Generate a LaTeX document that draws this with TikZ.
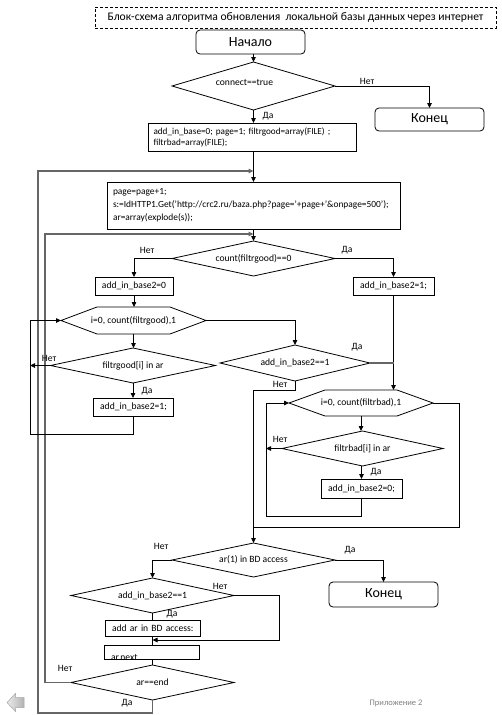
\documentclass[tikz,border=0pt]{standalone}
\usepackage{fontspec}
\setmainfont{Carlito}
\usetikzlibrary{arrows.meta}
\newcommand\hexoutline[2]{\draw[ln] (#1.west) -- ([xshift=#2]#1.north west) -- ([xshift=-#2]#1.north east) -- (#1.east) -- ([xshift=-#2]#1.south east) -- ([xshift=#2]#1.south west) -- cycle;}
\newcommand\diaoutline[1]{\draw[ln] (#1.west) -- (#1.north) -- (#1.east) -- (#1.south) -- cycle;}
\begin{document}
\begin{tikzpicture}[x=1pt,y=-1pt,
  every node/.style={inner sep=0pt, outer sep=0pt},
  txt/.style={font=\fontsize{9.6}{11}\selectfont},
  boxn/.style={draw, rectangle, txt, line width=0.8pt},
  term/.style={draw, rectangle, rounded corners=4pt, font=\fontsize{14}{16}\selectfont, line width=0.8pt, minimum width=109pt},
  dia/.style={rectangle, txt},
  lbl/.style={txt},
  ln/.style={line width=0.8pt},
  arr/.style={ln, -{Triangle[length=5pt,width=4.5pt]}},
  gln/.style={line width=1.1pt, black!60},
  garr/.style={gln, -{Triangle[length=5pt,width=4.5pt]}},
]
\useasboundingbox (0,0) rectangle (502,715);
\fill[white] (0,0) rectangle (502,715);

% title
\node[draw, dashed, dash pattern=on 3pt off 2pt, line width=0.8pt, minimum width=401pt, minimum height=21pt, font=\fontsize{11.6}{13}\selectfont] (title) at (295.5,17.5) {Блок-схема алгоритма обновления\ \ локальной базы данных через интернет};

% nodes
\node[term, minimum height=24pt] (start) at (250.5,42) {Начало};
\node[dia, minimum width=163pt, minimum height=48pt, label={[txt, xshift=-9pt, yshift=4pt]center:connect==true}] (d1) at (253.5,86) {};
\diaoutline{d1}
\node[term, minimum height=23pt] (end1) at (429.5,119.5) {Конец};
\node[boxn, minimum width=208pt, minimum height=28pt, text width=197pt, align=left, font=\fontsize{9.2}{11}\selectfont] (b1) at (252,137) {add\_in\_base=0; page=1; filtrgood=array(FILE) ;\\filtrbad=array(FILE);};
\node[boxn, minimum width=293pt, minimum height=47pt, text width=281pt, align=left, font=\fontsize{9.4}{13}\selectfont] (b2) at (253.5,205.5) {page=page+1;\\s:=IdHTTP1.Get('http://crc2.ru/baza.php?page='+page+'\&onpage=500');\\ar=array(explode(s));};
\node[dia, minimum width=163pt, minimum height=35pt] (d2) at (253.5,258.5) {count(filtrgood)==0};
\diaoutline{d2}
\node[boxn, minimum width=78pt, minimum height=18pt] (b3) at (134,286) {add\_in\_base2=0};
\node[boxn, minimum width=81pt, minimum height=18pt] (b4) at (393.5,286) {add\_in\_base2=1;};
\node[txt, minimum width=145pt, minimum height=27pt] (h1) at (133.5,320.5) {i=0, count(filtrgood),1};
\hexoutline{h1}{36pt}
\node[dia, minimum width=165pt, minimum height=35pt] (d3) at (133,365.5) {filtrgood[i] in ar};
\diaoutline{d3}
\node[boxn, minimum width=80pt, minimum height=18pt] (b5) at (133.5,407) {add\_in\_base2=1;};
\node[dia, minimum width=150pt, minimum height=36pt] (d4) at (295,363) {add\_in\_base2==1};
\diaoutline{d4}
\node[txt, minimum width=144pt, minimum height=26pt] (h2) at (361,403) {i=0, count(filtrbad),1};
\hexoutline{h2}{36pt}
\node[dia, minimum width=161pt, minimum height=35pt] (d5) at (362.5,448.5) {filtrbad[i] in ar};
\diaoutline{d5}
\node[boxn, minimum width=81pt, minimum height=19pt] (b6) at (361.5,488.5) {add\_in\_base2=0;};
\node[dia, minimum width=163pt, minimum height=34pt] (d6) at (253.5,560) {ar(1) in BD access};
\diaoutline{d6}
\node[term, minimum height=25pt] (end2) at (383.5,594.5) {Конец};
\node[dia, minimum width=163pt, minimum height=35pt] (d7) at (152.5,595.5) {add\_in\_base2==1};
\diaoutline{d7}
\node[boxn, minimum width=95pt, minimum height=16pt, text width=87pt, align=left] (b7) at (152.5,628) {\hspace*{3pt}add ar in BD access:};
\node[boxn, minimum width=95pt, minimum height=14pt] (b8) at (151.5,652) {};
\begin{scope}
\clip (b8.south west) rectangle (b8.north east);
\node[txt, anchor=base west] (b8t) at (111,660.5) {ar.next};
\end{scope}
\node[dia, minimum width=163pt, minimum height=35pt] (d8) at (152.5,682.5) {ar==end};
\diaoutline{d8}

% coordinates
\coordinate (c1) at (38,713);
\coordinate (c2) at (38,171);
\coordinate (c3) at (45,234);
\coordinate (c4) at (30,434);
\coordinate (c5) at (30,365.5);
\coordinate (c6) at (253.5,390);
\coordinate (c7) at (459,527);
\coordinate (c8) at (266,516);
\coordinate (c9) at (279,640);
\coordinate (c10) at (266,448.5);

% connectors
\draw[arr] (start.south -| d1.north) -- (d1.north);
\draw[arr] (d1.east) -| (end1.north);
\draw[arr] (d1.south) -- (d1.south |- b1.north);
\draw[arr] (b1.south -| b2.north) -- (b2.north);
\draw[garr] (d8.south) |- (c1) -- (c2) -- (c2 -| b2.north);
\draw[arr] (b2.south) -- (d2.north);
\draw[garr] (d8.west) -| (c3) -- (c3 -| d2.north);
\draw[arr] (d2.west) -| (b3.north);
\draw[arr] (d2.east) -| (b4.north);
\draw[arr] (b3.south) -- (b3.south |- h1.north);
\draw[arr] (h1.east) -| (d4.north);
\draw[arr] (h1.south) -- (h1.south |- d3.north);
\draw[arr] (d3.west) -- (c5);
\draw[arr] (d3.south) -- (d3.south |- b5.north);
\draw[arr] (b5.south) |- (c4) -- (c4 |- h1.west) -- (h1.west);
\draw[arr] (b4.south) -- (b4.south |- h2.north);
\draw[gln] (d4.east) -- (d4.east -| b4.south);
\draw[arr] (d4.south) |- (c6) -- (c6 |- d6.north);
\draw[ln] (h2.east) -| (c7) -- (c7 -| c6);
\draw[arr] (h2.south) -- (h2.south |- d5.north);
\draw[arr] (d5.west) -- (c10);
\draw[arr] (d5.south -| b6.north) -- (b6.north);
\draw[arr] (b6.south) |- (c8) -- (c8 |- h2.west) -- (h2.west);
\draw[arr] (d6.west) -| (d7.north);
\draw[arr] (d6.east) -| (end2.north);
\draw[arr] (d7.east) -| (c9) -- (c9 -| d7.south);
\draw[ln] (d7.south) -- (d7.south |- b7.north);
\draw[ln] (b7.south) -- (b7.south |- b8.north);
\draw[ln] (b8.south -| d8.north) -- (d8.north);

% labels
\node[lbl] (l1) at (367,81) {Нет};
\node[lbl] (l2) at (268,116) {Да};
\node[lbl] (l3) at (147,250) {Нет};
\node[lbl] (l4) at (347,250) {Да};
\node[lbl] (l5) at (49,358) {Нет};
\node[lbl] (l6) at (147,391) {Да};
\node[lbl] (l7) at (357,347) {Да};
\node[lbl] (l8) at (280,384) {Нет};
\node[lbl] (l9) at (280,439) {Нет};
\node[lbl] (l10) at (376,472) {Да};
\node[lbl] (l11) at (161,546) {Нет};
\node[lbl] (l12) at (350,550) {Да};
\node[lbl] (l13) at (220,586) {Нет};
\node[lbl] (l14) at (172,614) {Да};
\node[lbl] (l15) at (65,668) {Нет};
\node[lbl] (l16) at (127,703) {Да};
\node[font=\fontsize{8.5}{10}\selectfont, text=black!50] (app) at (396,703) {Приложение 2};

% back arrow icon
\draw[black!35, left color=black!8, right color=black!30, line width=0.5pt] (7,702.5) -- (15.5,693.5) -- (15.5,697.5) -- (24,697.5) -- (24,707.5) -- (15.5,707.5) -- (15.5,711.5) -- cycle;
\end{tikzpicture}
\end{document}
